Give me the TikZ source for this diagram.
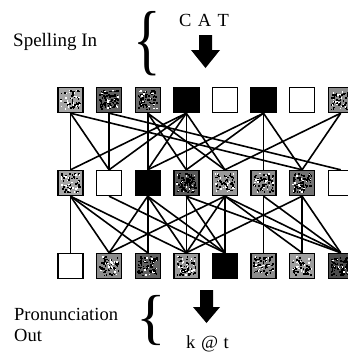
\documentclass[tikz,border=0pt]{standalone}
\usepackage{fontspec}
\setmainfont{Liberation Serif}
\usetikzlibrary{calc}
\begin{document}
\begin{tikzpicture}[x=1pt,y=-1pt,
  cell/.style={draw=black, line width=1.4pt, minimum size=25pt, inner sep=0pt},
  link/.style={line width=1.6pt, black},
  label/.style={font=\fontsize{18.5}{20}\selectfont, inner sep=0pt},
  bigarrow/.style={fill=black}]
\useasboundingbox (0,0) rectangle (348,354);
\clip (0,0) rectangle (348,354);
\pgfmathsetseed{11}

% speckled half-tone texture inside a unit
\newcommand\speckle[2]{%
  \begin{scope}[shift={(#1.center)}]
    \pgfmathtruncatemacro\nb{#2*1.2}
    \pgfmathtruncatemacro\nw{(100-#2)*0.35}
    \foreach \k in {1,...,\nb} {\fill[black] ({rand*9.5-0.8},{rand*9.5-0.8}) rectangle ++(1.7,1.7);}
    \foreach \k in {1,...,\nw} {\fill[white] ({rand*9.5-0.7},{rand*9.5-0.7}) rectangle ++(1.4,1.4);}
  \end{scope}}

% three layers of units
\foreach \g [count=\i] in {35,62,58,100,0,100,0,45} {
  \node[cell, fill=black!\g] (T\i) at ({70.5+38.6*(\i-1)},100) {};
  \ifnum\g>0 \ifnum\g<100 \speckle{T\i}{\g}\fi\fi
}
\foreach \g [count=\i] in {35,0,100,65,40,45,55,0} {
  \node[cell, fill=black!\g] (M\i) at ({70.5+38.6*(\i-1)},183) {};
  \ifnum\g>0 \ifnum\g<100 \speckle{M\i}{\g}\fi\fi
}
\foreach \g [count=\i] in {0,45,62,40,100,45,38,70} {
  \node[cell, fill=black!\g] (B\i) at ({70.5+38.6*(\i-1)},266) {};
  \ifnum\g>0 \ifnum\g<100 \speckle{B\i}{\g}\fi\fi
}

% connections, spelling layer to hidden layer
\foreach \a/\b in {T1/M1,T1/M2,T1/M7,T2/M2,T2/M8,T3/M3,T3/M4,T3/M5,
                   T4/M1,T4/M2,T4/M3,T4/M4,T4/M5,T6/M3,T6/M4,T6/M6,T6/M7,
                   T8/M5,T8/M7}
  \draw[link] (\a.south) -- (\b.north);
% connections, hidden layer to pronunciation layer
\foreach \a/\b in {M1/B1,M1/B2,M1/B3,M1/B4,M2/B5,M3/B2,M3/B3,M3/B4,M3/B5,
                   M4/B4,M4/B5,M4/B8,M5/B2,M5/B4,M5/B5,M5/B7,M5/B8,
                   M6/B6,M6/B8,M7/B4,M7/B7,M7/B8}
  \draw[link] (\a.south) -- (\b.north);

% input side
\node[label, font=\fontsize{19}{20}\selectfont, anchor=west] (spin) at (13,42) {Spelling In};
\node[inner sep=0pt] (bracetop) at (147,44)
  {\scalebox{0.7}[0.95]{\fontsize{82}{82}\selectfont\{}};
\node[label] (cat) at (204,20) {C\hspace{0.35em}A\hspace{0.35em}T};
\coordinate (ain) at (205.5,35);
\fill[bigarrow] ($(ain)+(-6.5,0)$) -- ++(13,0) -- ++(0,15) -- ++(8,0)
  -- (205.5,68) -- ($(ain)+(-14.5,15)$) -- ++(8,0) -- cycle;

% output side
\node[label, anchor=west] (pron) at (14,314) {Pronunciation};
\node[label, anchor=west] (out) at (14,335) {Out};
\node[inner sep=0pt] (bracebot) at (151,321)
  {\scalebox{0.75}[0.74]{\fontsize{82}{82}\selectfont\{}};
\coordinate (aout) at (206.5,290);
\fill[bigarrow] ($(aout)+(-6.5,0)$) -- ++(13,0) -- ++(0,17) -- ++(7,0)
  -- (206.5,323) -- ($(aout)+(-13.5,17)$) -- ++(7,0) -- cycle;
\node[label] (kat) at (207.5,344) {k\hspace{0.3em}@\hspace{0.3em}t};
\end{tikzpicture}
\end{document}
